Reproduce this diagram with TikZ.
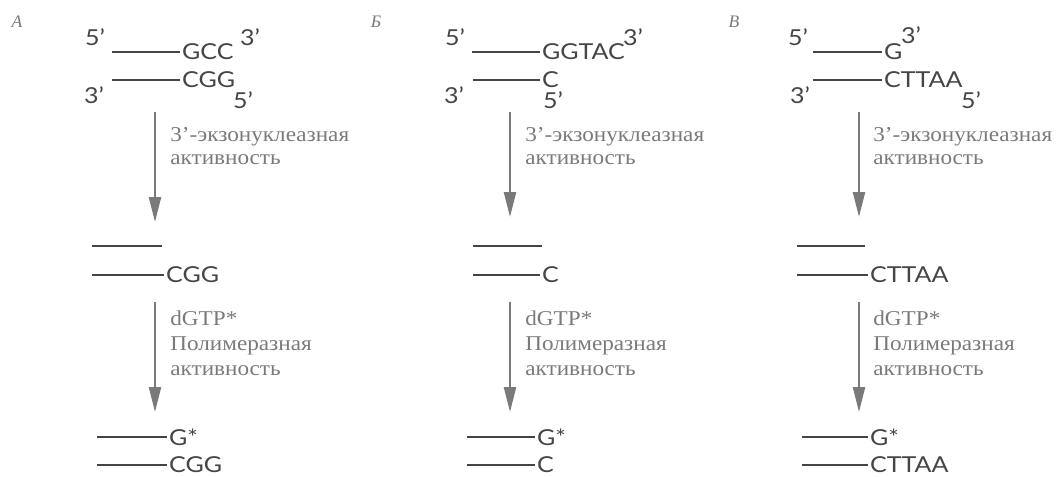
\documentclass[tikz,border=0pt]{standalone}
\usepackage{fontspec}
\setmainfont{Liberation Serif}
\newfontfamily\seqfont[FakeStretch=1.14]{Lato}
\newfontfamily\notefont[FakeStretch=1.1]{Liberation Serif}
\usepackage{xcolor}
\usepackage{tikz}
\usetikzlibrary{arrows.meta, positioning}

\definecolor{inkdark}{HTML}{454545}
\definecolor{inklight}{HTML}{7A7A7A}

\tikzset{
    strand/.style={line width=1.3pt, inkdark},
    seq/.style={font=\seqfont\fontsize{12.5}{14}\selectfont, text=inkdark, anchor=west, inner sep=1pt},
    prime/.style={font=\seqfont\fontsize{12.5}{14}\selectfont, text=inkdark, inner sep=0pt},
    note/.style={font=\notefont\fontsize{12}{14}\selectfont, text=inklight, anchor=west, inner sep=0pt},
    panel/.style={font=\itshape\normalsize, text=inklight, inner sep=0pt},
    process/.style={line width=1.3pt, inklight, -{Triangle[length=0.5cm, width=0.24cm]}}
}

\begin{document}
\begin{tikzpicture}[x=0.02cm, y=-0.02cm]
    \useasboundingbox (0,0) rectangle (1063,477);

    % Panel A: blunt GCC / CGG end
    \node[panel] (pA) at (17,22) {А};
    \node[prime] (A5t) at (95,37) {5’};
    \node[prime] (A3b) at (94,95) {3’};
    \node[seq] (Atop) at (180,52) {GCC};
    \node[seq] (Abot) at (180,80) {CGG};
    \node[prime] (A3t) at (250,37) {3’};
    \node[prime] (A5b) at (243,100) {5’};
    \coordinate (Atl) at (112,52);
    \coordinate (Abl) at (112,80);
    \draw[strand] (Atl) -- (Atop.west);
    \draw[strand] (Abl) -- (Abot.west);

    % exonuclease step
    \coordinate (Aa1) at (155,112);
    \coordinate (Aa2) at (155,222);
    \draw[process] (Aa1) -- (Aa2);
    \node[note] (Aexo) at (170,137) {3’-экзонуклеазная};
    \node[note] (Aact) at (170,160) {активность};

    % trimmed duplex
    \coordinate (Aml) at (92,246);
    \coordinate (Amr) at (162,246);
    \draw[strand] (Aml) -- (Amr);
    \coordinate (Anl) at (92,275);
    \node[seq] (Amid) at (164,275) {CGG};
    \draw[strand] (Anl) -- (Amid.west);

    % polymerase step
    \coordinate (Ab1) at (155,302);
    \coordinate (Ab2) at (155,412);
    \draw[process] (Ab1) -- (Ab2);
    \node[note] (Adg) at (170,318) {dGTP*};
    \node[note] (Apol) at (170,346) {Полимеразная};
    \node[note] (Aact2) at (170,371) {активность};

    % labelled end
    \coordinate (Aul) at (97,437);
    \coordinate (Avl) at (97,465);
    \node[seq] (Aend) at (167,437) {G*};
    \node[seq] (Aendb) at (167,465) {CGG};
    \draw[strand] (Aul) -- (Aend.west);
    \draw[strand] (Avl) -- (Aendb.west);

    % Panel B: 5' overhang GGTAC
    \node[panel] (pB) at (376,22) {Б};
    \node[prime] (B5t) at (455,37) {5’};
    \node[prime] (B3b) at (454,95) {3’};
    \node[seq] (Btop) at (540,52) {GGTAC};
    \node[seq] (Bbot) at (540,80) {C};
    \node[prime] (B3t) at (633,37) {3’};
    \node[prime] (B5b) at (553,100) {5’};
    \coordinate (Btl) at (472,52);
    \coordinate (Bbl) at (473,80);
    \draw[strand] (Btl) -- (Btop.west);
    \draw[strand] (Bbl) -- (Bbot.west);

    \coordinate (Ba1) at (510,112);
    \coordinate (Ba2) at (510,217);
    \draw[process] (Ba1) -- (Ba2);
    \node[note] (Bexo) at (525,137) {3’-экзонуклеазная};
    \node[note] (Bact) at (525,160) {активность};

    \coordinate (Bml) at (473,246);
    \coordinate (Bmr) at (542,246);
    \draw[strand] (Bml) -- (Bmr);
    \coordinate (Bnl) at (473,275);
    \node[seq] (Bmid) at (540,275) {C};
    \draw[strand] (Bnl) -- (Bmid.west);

    \coordinate (Bb1) at (510,302);
    \coordinate (Bb2) at (510,412);
    \draw[process] (Bb1) -- (Bb2);
    \node[note] (Bdg) at (525,318) {dGTP*};
    \node[note] (Bpol) at (525,346) {Полимеразная};
    \node[note] (Bact2) at (525,371) {активность};

    \coordinate (Bul) at (467,437);
    \coordinate (Bvl) at (467,465);
    \node[seq] (Bend) at (535,437) {G*};
    \node[seq] (Bendb) at (535,465) {C};
    \draw[strand] (Bul) -- (Bend.west);
    \draw[strand] (Bvl) -- (Bendb.west);

    % Panel C: 3' recessed CTTAA
    \node[panel] (pC) at (734,22) {В};
    \node[prime] (C5t) at (798,37) {5’};
    \node[prime] (C3b) at (800,95) {3’};
    \node[seq] (Ctop) at (882,52) {G};
    \node[seq] (Cbot) at (882,80) {CTTAA};
    \node[prime] (C3t) at (911,35) {3’};
    \node[prime] (C5b) at (971,100) {5’};
    \coordinate (Ctl) at (813,52);
    \coordinate (Cbl) at (813,80);
    \draw[strand] (Ctl) -- (Ctop.west);
    \draw[strand] (Cbl) -- (Cbot.west);

    \coordinate (Ca1) at (859,112);
    \coordinate (Ca2) at (859,217);
    \draw[process] (Ca1) -- (Ca2);
    \node[note] (Cexo) at (873,137) {3’-экзонуклеазная};
    \node[note] (Cact) at (873,160) {активность};

    \coordinate (Cml) at (797,246);
    \coordinate (Cmr) at (865,246);
    \draw[strand] (Cml) -- (Cmr);
    \coordinate (Cnl) at (797,275);
    \node[seq] (Cmid) at (868,275) {CTTAA};
    \draw[strand] (Cnl) -- (Cmid.west);

    \coordinate (Cb1) at (859,302);
    \coordinate (Cb2) at (859,412);
    \draw[process] (Cb1) -- (Cb2);
    \node[note] (Cdg) at (873,318) {dGTP*};
    \node[note] (Cpol) at (873,346) {Полимеразная};
    \node[note] (Cact2) at (873,371) {активность};

    \coordinate (Cul) at (802,437);
    \coordinate (Cvl) at (802,465);
    \node[seq] (Cend) at (868,437) {G*};
    \node[seq] (Cendb) at (868,465) {CTTAA};
    \draw[strand] (Cul) -- (Cend.west);
    \draw[strand] (Cvl) -- (Cendb.west);
\end{tikzpicture}
\end{document}
